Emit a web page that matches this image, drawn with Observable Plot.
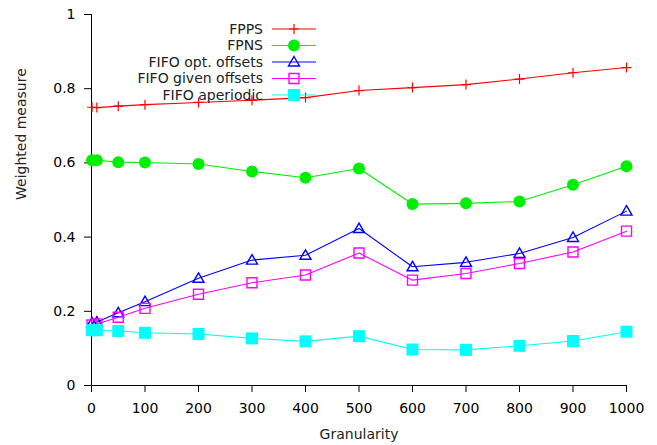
<!DOCTYPE html>
<html>
<head>
<meta charset="utf-8">
<script src="https://cdn.jsdelivr.net/npm/d3@7"></script>
<script src="https://cdn.jsdelivr.net/npm/@observablehq/plot@0.6"></script>
<style>
  html, body { margin: 0; padding: 0; background: #fff; }
  #chart svg { display: block; }
</style>
</head>
<body>
<div id="chart"></div>
<script>
// Granularity values on the x axis
const granularity = [1, 10, 50, 100, 200, 300, 400, 500, 600, 700, 800, 900, 1000];

// Weighted measure for each scheduling policy
const fpps      = [0.750, 0.749, 0.753, 0.757, 0.763, 0.769, 0.776, 0.795, 0.803, 0.811, 0.826, 0.843, 0.857];
const fpns      = [0.607, 0.607, 0.602, 0.601, 0.597, 0.577, 0.560, 0.585, 0.489, 0.491, 0.496, 0.541, 0.591];
const fifoOpt   = [0.169, 0.171, 0.196, 0.226, 0.289, 0.338, 0.351, 0.423, 0.320, 0.332, 0.356, 0.399, 0.470];
const fifoGiven = [0.163, 0.166, 0.184, 0.208, 0.246, 0.277, 0.298, 0.357, 0.284, 0.302, 0.329, 0.360, 0.416];
const fifoAper  = [0.149, 0.149, 0.147, 0.142, 0.139, 0.127, 0.119, 0.133, 0.097, 0.096, 0.107, 0.120, 0.145];

const seriesNames = ["FPPS", "FPNS", "FIFO opt. offsets", "FIFO given offsets", "FIFO aperiodic"];
const seriesValues = [fpps, fpns, fifoOpt, fifoGiven, fifoAper];
const seriesColors = ["#ff0000", "#00ee00", "#0000ff", "#ff00ff", "#00ffff"];

const xTicks = [0, 100, 200, 300, 400, 500, 600, 700, 800, 900, 1000];
const yTicks = [0, 0.2, 0.4, 0.6, 0.8, 1];

// Point symbols (fixed pixel sizes)
const symPlus = { draw(c) { c.moveTo(-5, 0); c.lineTo(5, 0); c.moveTo(0, -5); c.lineTo(0, 5); } };
const symCircle = { draw(c) { c.moveTo(6, 0); c.arc(0, 0, 6, 0, 2 * Math.PI); } };
const symTriangle = { draw(c) { c.moveTo(0, -5.5); c.lineTo(5.5, 4); c.lineTo(-5.5, 4); c.closePath(); } };
const symSquareOpen = { draw(c) { c.moveTo(-5, -5); c.lineTo(5, -5); c.lineTo(5, 5); c.lineTo(-5, 5); c.closePath(); } };
const symSquareFill = { draw(c) { c.moveTo(-6, -6); c.lineTo(6, -6); c.lineTo(6, 6); c.lineTo(-6, 6); c.closePath(); } };

const seriesStyle = [
  { symbol: symPlus, fill: "none", stroke: seriesColors[0], strokeWidth: 1.2 },
  { symbol: symCircle, fill: seriesColors[1], stroke: "none", strokeWidth: 0 },
  { symbol: symTriangle, fill: "none", stroke: seriesColors[2], strokeWidth: 1.4 },
  { symbol: symSquareOpen, fill: "none", stroke: seriesColors[3], strokeWidth: 1.4 },
  { symbol: symSquareFill, fill: seriesColors[4], stroke: "none", strokeWidth: 0 }
];

const rows = seriesNames.map((name, i) =>
  granularity.map((g, j) => ({ series: name, x: g, y: seriesValues[i][j] }))
);

const marks = [
  Plot.axisY({ ticks: yTicks, tickSize: 7, tickPadding: 9, tickFormat: d => String(d), label: null, fontSize: 14 }),
  Plot.axisX({ ticks: xTicks, tickSize: 7, tickPadding: 11, tickFormat: d => String(d), label: null, fontSize: 14 }),
  Plot.ruleX([0], { stroke: "#000" }),
  Plot.ruleY([0], { stroke: "#000" }),
  Plot.text(["Weighted measure"], { frameAnchor: "left", dx: -70, rotate: -90, fontSize: 14, fill: "#222" }),
  Plot.text(["Granularity"], { frameAnchor: "bottom", dy: 53, fontSize: 14, fill: "#222" })
];

rows.forEach((data, i) => {
  const st = seriesStyle[i];
  marks.push(Plot.line(data, { x: "x", y: "y", stroke: seriesColors[i], strokeWidth: 1.1 }));
  marks.push(Plot.dot(data, { x: "x", y: "y", symbol: st.symbol, fill: st.fill, stroke: st.stroke, strokeWidth: st.strokeWidth }));
});

const chart = Plot.plot({
  width: 657,
  height: 445,
  marginLeft: 91,
  marginRight: 31,
  marginTop: 14,
  marginBottom: 60,
  style: { fontFamily: "DejaVu Sans", fontSize: "14px", background: "#fff", color: "#000" },
  x: { domain: [0, 1000] },
  y: { domain: [0, 1] },
  marks
});

// Key in the upper part of the plot area
const key = d3.select(chart).append("g").attr("font-family", "DejaVu Sans").attr("font-size", 14);
seriesNames.forEach((name, i) => {
  const cy = 29 + i * 16.5;
  const row = key.append("g");
  row.append("text")
    .attr("x", 263).attr("y", cy).attr("dy", "0.35em")
    .attr("text-anchor", "end").attr("fill", "#222").text(name);
  row.append("line")
    .attr("x1", 272).attr("x2", 316).attr("y1", cy).attr("y2", cy)
    .attr("stroke", seriesColors[i]).attr("stroke-width", 1.1);
  const st = seriesStyle[i];
  row.append("path")
    .attr("transform", `translate(294,${cy})`)
    .attr("d", d3.symbol(st.symbol, 64)())
    .attr("fill", st.fill).attr("stroke", st.stroke).attr("stroke-width", st.strokeWidth);
});

document.getElementById("chart").appendChild(chart);
</script>
</body>
</html>
